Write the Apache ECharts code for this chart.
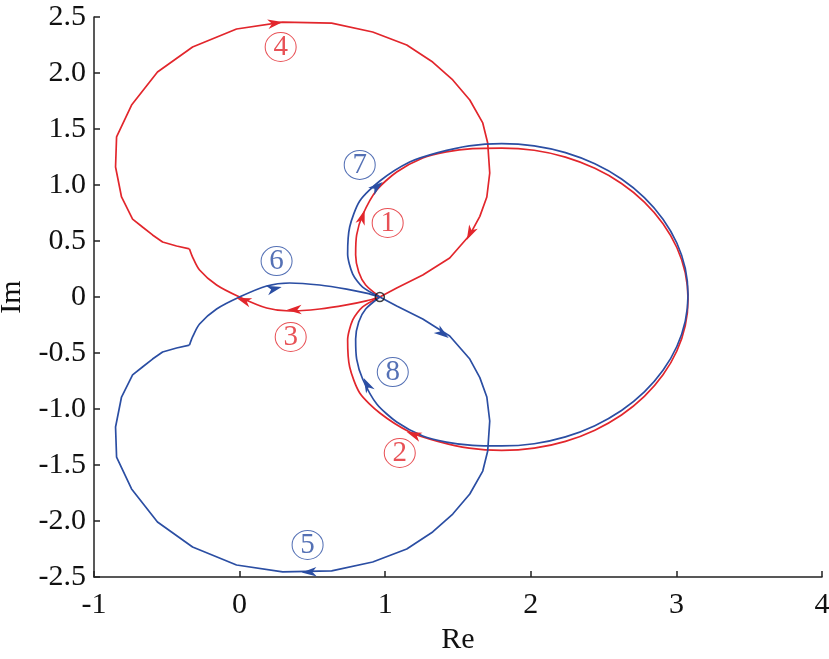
<!DOCTYPE html>
<html>
<head>
<meta charset="utf-8">
<script src="https://cdn.jsdelivr.net/npm/echarts@6/dist/echarts.min.js"></script>
<style>html,body{margin:0;padding:0;background:#fff;}#c{width:829px;height:659px;}</style>
</head>
<body>
<div id="c"></div>
<script>
// ---- data (Re, Im) ----
const redSmallLoop = [
  [0.963,0],[0.866,0.107],[0.818,0.223],[0.797,0.375],[0.804,0.554],[0.845,0.732],[0.942,0.955],
  [1.079,1.116],[1.258,1.241],[1.420,1.295],[1.600,1.325],[1.800,1.330],[2.023,1.310],[2.238,1.249],
  [2.440,1.149],[2.623,1.014],[2.780,0.848],[2.908,0.655],[3.003,0.442],[3.061,0.215],[3.080,-0.020],
  [3.061,-0.255],[3.003,-0.482],[2.908,-0.695],[2.780,-0.888],[2.623,-1.054],[2.440,-1.189],[2.238,-1.289],
  [2.023,-1.350],[1.800,-1.370],[1.577,-1.350],[1.362,-1.289],[1.168,-1.205],[0.963,-1.036],[0.825,-0.857],
  [0.756,-0.625],[0.742,-0.384],[0.777,-0.205],[0.845,-0.089],[0.963,0]
];
const redLowerArc = [
  [0.963,0],[0.870,-0.035],[0.735,-0.071],[0.550,-0.107],[0.344,-0.125],[0.186,-0.098],[0,0],
  [-0.158,0.107],[-0.275,0.241],[-0.323,0.357],[-0.344,0.429]
];
const redUpperLoop = [
  [-0.344,0.429],[-0.433,0.455],[-0.529,0.491],[-0.598,0.554],[-0.667,0.625],[-0.735,0.696],[-0.811,0.893],
  [-0.852,1.161],[-0.845,1.429],[-0.742,1.714],[-0.564,2.009],[-0.323,2.232],[-0.021,2.393],[0.296,2.455],
  [0.632,2.446],[0.914,2.366],[1.148,2.250],[1.326,2.098],[1.464,1.938],[1.581,1.759],[1.670,1.554],
  [1.704,1.375],[1.718,1.107],[1.698,0.893],[1.650,0.720],[1.581,0.554],[1.443,0.348],[1.258,0.196],[1.079,0.080],[0.963,0]
];
const blueSmallLoop = [
  [0.963,0],[0.845,0.089],[0.777,0.205],[0.742,0.384],[0.756,0.625],[0.825,0.857],[0.963,1.036],
  [1.168,1.205],[1.362,1.289],[1.577,1.350],[1.800,1.370],[2.023,1.350],[2.238,1.289],[2.440,1.189],
  [2.623,1.054],[2.780,0.888],[2.908,0.695],[3.003,0.482],[3.061,0.255],[3.080,0.020],[3.061,-0.215],
  [3.003,-0.442],[2.908,-0.655],[2.780,-0.848],[2.623,-1.014],[2.440,-1.149],[2.238,-1.249],[2.023,-1.310],
  [1.800,-1.330],[1.600,-1.325],[1.420,-1.295],[1.258,-1.241],[1.079,-1.116],[0.942,-0.955],[0.845,-0.732],
  [0.804,-0.554],[0.797,-0.375],[0.818,-0.223],[0.866,-0.107],[0.963,0]
];
const blueUpperArc = [
  [-0.344,-0.429],[-0.323,-0.357],[-0.275,-0.241],[-0.158,-0.107],[0,0],[0.186,0.098],[0.344,0.125],
  [0.550,0.107],[0.735,0.071],[0.870,0.035],[0.963,0]
];
const blueLowerLoop = [
  [0.963,0],[1.079,-0.080],[1.258,-0.196],[1.443,-0.348],[1.581,-0.554],[1.650,-0.720],[1.698,-0.893],
  [1.718,-1.107],[1.704,-1.375],[1.670,-1.554],[1.581,-1.759],[1.464,-1.938],[1.326,-2.098],[1.148,-2.250],
  [0.914,-2.366],[0.632,-2.446],[0.296,-2.455],[-0.021,-2.393],[-0.323,-2.232],[-0.564,-2.009],[-0.742,-1.714],
  [-0.845,-1.429],[-0.852,-1.161],[-0.811,-0.893],[-0.735,-0.696],[-0.667,-0.625],[-0.598,-0.554],[-0.529,-0.491],
  [-0.433,-0.455],[-0.344,-0.429]
];
// arrows: [tipRe, tipIm, fromRe, fromIm]
const redArrows = [
  [0.859,0.777,0.804,0.554],
  [0.296,2.455,-0.021,2.393],
  [1.560,0.509,1.670,0.795],
  [1.148,-1.205,1.423,-1.339],
  [0.323,-0.116,0.550,-0.107],
  [-0.021,-0.009,0.186,-0.098]
];
const blueArrows = [
  [0.289,0.089,0.0,0.0],
  [0.983,1.027,0.825,0.857],
  [1.436,-0.366,1.258,-0.196],
  [0.852,-0.723,0.942,-0.955],
  [0.426,-2.460,0.632,-2.446]
];
const redLabels = [
  {name:'1', value:[1.017,0.661]},
  {name:'2', value:[1.100,-1.393]},
  {name:'3', value:[0.351,-0.357]},
  {name:'4', value:[0.282,2.232]}
];
const blueLabels = [
  {name:'5', value:[0.467,-2.214]},
  {name:'6', value:[0.254,0.321]},
  {name:'7', value:[0.825,1.179]},
  {name:'8', value:[1.052,-0.670]}
];
const crossPoint = [[0.963,0]];

const RED = '#e2262c', BLUE = '#2b4ea3';
const FONT = '"Liberation Serif", "DejaVu Serif", serif';

function lineSeries(data, color, smooth){
  return {type:'line', data:data, smooth:smooth, symbol:'none', showSymbol:false,
    lineStyle:{color:color, width:1.7}, z:2, silent:true};
}
function arrowSeries(data, color){
  return {
    type:'custom', data:data, encode:{x:0,y:1}, z:4, silent:true,
    renderItem:function(params, api){
      const p = api.coord([api.value(0), api.value(1)]);
      const q = api.coord([api.value(2), api.value(3)]);
      let dx = p[0]-q[0], dy = p[1]-q[1];
      const len = Math.hypot(dx,dy) || 1; dx/=len; dy/=len;
      const L = 15, W = 4.8, nx = -dy, ny = dx;
      const bx = p[0]-L*dx, by = p[1]-L*dy;
      return {type:'polygon', shape:{points:[
        [p[0],p[1]],[bx+W*nx,by+W*ny],[p[0]-0.72*L*dx,p[1]-0.72*L*dy],[bx-W*nx,by-W*ny]
      ]}, style:{fill:color}};
    }
  };
}
function labelSeries(data, color){
  return {
    type:'scatter', data:data, symbol:'circle', symbolSize:[31,29], z:5, silent:true,
    itemStyle:{color:'rgba(255,255,255,0)', borderColor:color, borderWidth:1},
    label:{show:true, position:'inside', formatter:'{b}', color:color, fontFamily:FONT, fontSize:29}
  };
}

const axisCommon = {
  axisLine:{show:true, onZero:false, lineStyle:{color:'#222', width:1.5}},
  axisTick:{show:true, inside:true, length:6, lineStyle:{color:'#222', width:1.5}},
  splitLine:{show:false},
  nameLocation:'middle',
  nameTextStyle:{fontFamily:FONT, fontSize:30, color:'#111'}
};

const chart = echarts.init(document.getElementById('c'), null, {renderer:'canvas'});
chart.setOption({
  animation:false,
  backgroundColor:'#fff',
  grid:{left:94, right:7, top:17, bottom:82, containLabel:false, outerBoundsMode:'none'},
  xAxis:Object.assign({}, axisCommon, {
    type:'value', min:-1, max:4, interval:1, name:'Re', nameGap:44,
    axisLabel:{margin:13, fontFamily:FONT, fontSize:30, color:'#111'}
  }),
  yAxis:Object.assign({}, axisCommon, {
    type:'value', min:-2.5, max:2.5, interval:0.5, name:'Im', nameGap:64, nameRotate:90,
    axisLabel:{margin:8, fontFamily:FONT, fontSize:30, color:'#111',
      formatter:function(v){ return v === 0 ? '0' : v.toFixed(1); }}
  }),
  series:[
    lineSeries(redSmallLoop, RED, 0.25),
    lineSeries(redLowerArc, RED, 0.3),
    lineSeries(redUpperLoop, RED, false),
    lineSeries(blueSmallLoop, BLUE, 0.25),
    lineSeries(blueUpperArc, BLUE, 0.3),
    lineSeries(blueLowerLoop, BLUE, false),
    arrowSeries(redArrows, RED),
    arrowSeries(blueArrows, BLUE),
    labelSeries(redLabels, RED),
    labelSeries(blueLabels, BLUE),
    {type:'scatter', data:crossPoint, symbol:'circle', symbolSize:9, z:6, silent:true,
      itemStyle:{color:'rgba(255,255,255,0)', borderColor:'#111', borderWidth:1.5}}
  ]
});
</script>
</body>
</html>
